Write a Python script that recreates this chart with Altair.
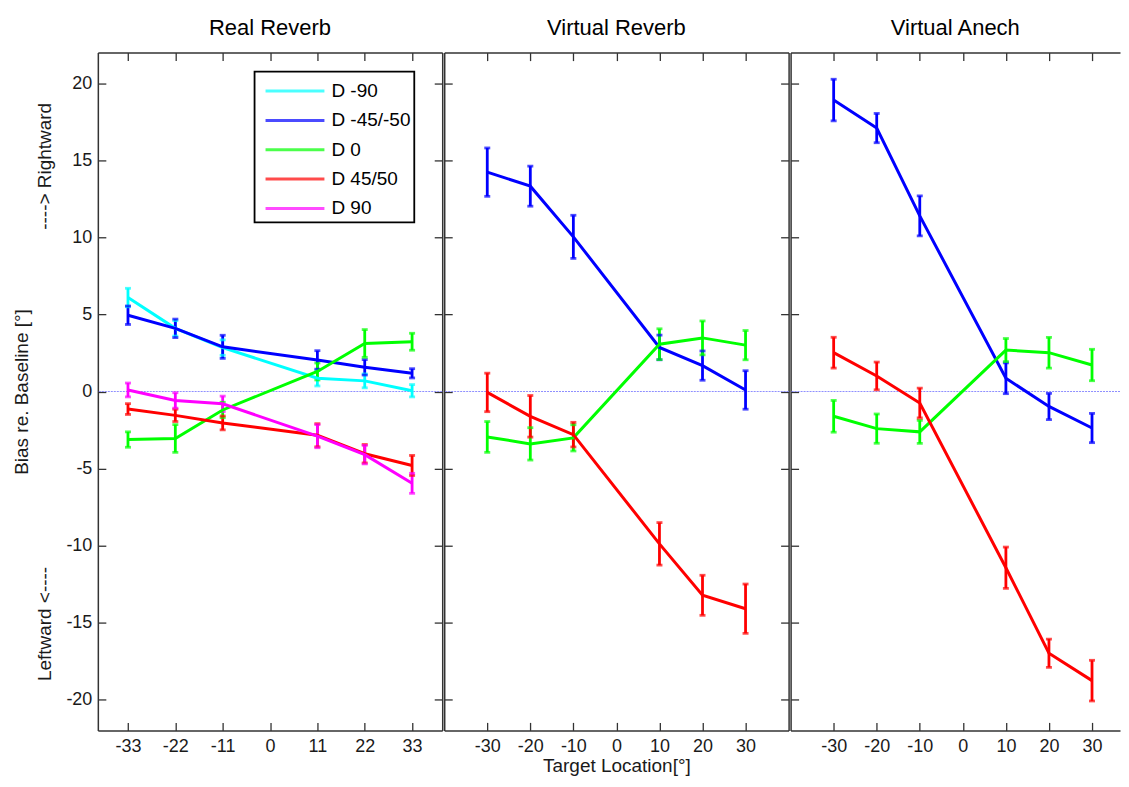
import altair as alt
import pandas as pd

FONT = "Liberation Sans"

series_names = ["D -90", "D -45/-50", "D 0", "D 45/50", "D 90"]
series_colors = ["#00FFFF", "#0000FF", "#00FF00", "#FF0000", "#FF00FF"]

panel_titles = ["Real Reverb", "Virtual Reverb", "Virtual Anech"]
x_title = "Target Location[°]"
y_title_main = "Bias re. Baseline [°]"
y_title_left = "Leftward <----"
y_title_right = "----> Rightward"

x_real = [-33, -22, -11, 11, 22, 33]
x_virt = [-30, -20, -10, 10, 20, 30]
x_ticks_real = [-33, -22, -11, 0, 11, 22, 33]
x_ticks_virt = [-30, -20, -10, 0, 10, 20, 30]
y_ticks = [-20, -15, -10, -5, 0, 5, 10, 15, 20]

# Real Reverb: means and error half-widths
rr_m90 = [6.1, 4.1, 2.85, 0.86, 0.69, 0.05]
rr_m90_e = [0.6, 0.5, 0.5, 0.5, 0.45, 0.4]
rr_m45 = [4.95, 4.1, 2.9, 2.05, 1.57, 1.18]
rr_m45_e = [0.6, 0.6, 0.75, 0.6, 0.5, 0.3]
rr_0 = [-3.12, -3.05, -1.2, 1.3, 3.12, 3.23]
rr_0_e = [0.5, 0.9, 0.5, 0.55, 0.9, 0.55]
rr_45 = [-1.14, -1.55, -2.04, -2.84, -4.04, -4.8]
rr_45_e = [0.35, 0.4, 0.45, 0.75, 0.6, 0.65]
rr_90 = [0.1, -0.58, -0.8, -2.9, -4.1, -5.96]
rr_90_e = [0.45, 0.5, 0.5, 0.75, 0.6, 0.65]

# Virtual Reverb
vr_m45 = [14.24, 13.33, 10.04, 2.86, 1.68, 0.1]
vr_m45_e = [1.57, 1.3, 1.4, 0.8, 0.95, 1.25]
vr_0 = [-2.95, -3.4, -3.01, 3.07, 3.48, 3.01]
vr_0_e = [1.0, 1.05, 0.85, 1.0, 1.1, 0.95]
vr_45 = [-0.06, -1.61, -2.8, -9.89, -13.23, -14.1]
vr_45_e = [1.25, 1.35, 0.8, 1.38, 1.3, 1.6]

# Virtual Anech
va_m45 = [18.92, 17.1, 11.4, 0.86, -0.97, -2.37]
va_m45_e = [1.35, 0.95, 1.3, 1.0, 0.85, 0.95]
va_0 = [-1.61, -2.41, -2.62, 2.69, 2.52, 1.72]
va_0_e = [1.03, 0.95, 0.75, 0.75, 1.0, 1.02]
va_45 = [2.52, 1.01, -0.75, -11.44, -16.99, -18.77]
va_45_e = [1.0, 0.9, 0.97, 1.34, 0.92, 1.32]


def make_df(xs, groups):
    rows = []
    for name, means, errs in groups:
        for x, m, e in zip(xs, means, errs):
            rows.append({"x": x, "y": m, "lo": m - e, "hi": m + e,
                         "series": name, "k": series_names.index(name)})
    return pd.DataFrame(rows)


df_rr = make_df(x_real, [("D -90", rr_m90, rr_m90_e), ("D -45/-50", rr_m45, rr_m45_e),
                         ("D 0", rr_0, rr_0_e), ("D 45/50", rr_45, rr_45_e),
                         ("D 90", rr_90, rr_90_e)])
df_vr = make_df(x_virt, [("D -45/-50", vr_m45, vr_m45_e), ("D 0", vr_0, vr_0_e),
                         ("D 45/50", vr_45, vr_45_e)])
df_va = make_df(x_virt, [("D -45/-50", va_m45, va_m45_e), ("D 0", va_0, va_0_e),
                         ("D 45/50", va_45, va_45_e)])
zero_df = pd.DataFrame({"z": [0]})

NEG = {"expr": "-8"}
PH = 679
LBL = "'' + datum.value"


def panel(df, title, width, xdomain, xticks, first, show_right, show_legend, xtitle):
    xs = alt.Scale(domain=xdomain, nice=False, zero=False)
    ys = alt.Scale(domain=[-22, 22], nice=False, zero=False)
    cs = alt.Scale(domain=series_names, range=series_colors)

    if first:
        ytitle = [y_title_main, y_title_left + "\u00a0" * 64 + y_title_right]
    else:
        ytitle = None

    bottom_axis = alt.Axis(values=xticks, title=xtitle, tickSize=NEG, labelPadding=15,
                           labelFontSize=18, titleFontSize=19, titlePadding=1,
                           titleFontWeight="normal", grid=False, labelExpr=LBL)
    top_axis = alt.Axis(values=xticks, orient="top", labels=False, title=None,
                        tickSize=NEG, grid=False)
    left_axis = alt.Axis(values=y_ticks, labels=first, title=ytitle, tickSize=NEG,
                         labelPadding=14, labelFontSize=18, titleFontSize=19,
                         titleFontWeight="normal", titleLineHeight=23, titlePadding=11,
                         grid=False, labelExpr=LBL)
    right_axis = (alt.Axis(values=y_ticks, orient="right", labels=False, title=None,
                           tickSize=NEG, grid=False) if show_right else None)

    if show_legend:
        leg = alt.Legend(orient="none", legendX=157, legendY=19, title=None,
                         symbolType="M-2,0H2", symbolSize=870, symbolStrokeWidth=3,
                         labelFontSize=19, labelFont=FONT, labelColor="black",
                         padding=3, symbolOffset=21, labelOffset=20, rowPadding=2.4,
                         strokeColor="black", fillColor="white")
    else:
        leg = None

    color = alt.Color("series:N", scale=cs, legend=leg, sort=series_names)

    zero = alt.Chart(zero_df).mark_rule(color="#8f8fff", strokeWidth=1,
                                        strokeDash=[2, 1]).encode(
        y=alt.Y("z:Q", scale=ys, axis=None))
    bars = alt.Chart(df).mark_rule(strokeWidth=2.8).encode(
        x=alt.X("x:Q", scale=xs, axis=top_axis),
        y=alt.Y("lo:Q", scale=ys, axis=right_axis),
        y2="hi:Q",
        color=color)
    caps = alt.Chart(df).transform_fold(["lo", "hi"], as_=["end", "val"]).mark_tick(
        orient="horizontal", size=6, thickness=2.8).encode(
        x=alt.X("x:Q", scale=xs, axis=None),
        y=alt.Y("val:Q", scale=ys, axis=None),
        color=color)
    line = alt.Chart(df).mark_line(strokeWidth=3).encode(
        x=alt.X("x:Q", scale=xs, axis=bottom_axis),
        y=alt.Y("y:Q", scale=ys, axis=left_axis),
        color=color)

    return alt.layer(zero, bars, caps, line).resolve_axis(
        x="independent", y="independent").properties(
        width=width, height=PH,
        title=alt.TitleParams(title, fontSize=22, font=FONT, fontWeight="normal",
                              color="black", offset=12))


p1 = panel(df_rr, panel_titles[0], 345, [-40, 40], x_ticks_real, True, True, True, None)
p2 = panel(df_vr, panel_titles[1], 345, [-40, 40], x_ticks_virt, False, True, False, x_title)
p3 = panel(df_va, panel_titles[2], 330, [-40, 36.5], x_ticks_virt, False, False, False, None)

chart = alt.hconcat(p1, p2, p3, spacing=0).resolve_scale(
    color="independent").resolve_legend(color="independent").properties(
    padding={"left": 4, "top": 8, "right": 0, "bottom": 0}
).configure_view(stroke=None).configure_axis(
    domainColor="#333333", domainWidth=1.5, tickColor="#333333", tickWidth=1.3,
    labelFont=FONT, titleFont=FONT, labelColor="#1a1a1a", titleColor="#1a1a1a"
).configure_legend(strokeWidth=1.8)

chart.save("out.html", embed_options={"renderer": "svg", "actions": False})
